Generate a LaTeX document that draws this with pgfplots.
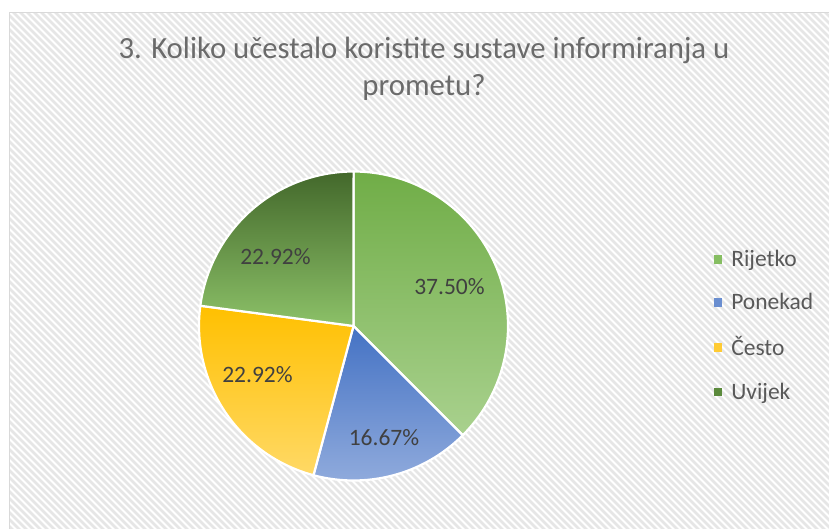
\documentclass[border=0pt]{standalone}
\usepackage{fontspec}
\setmainfont{Carlito}
\usepackage{pgfplots}
\pgfplotsset{compat=1.18}
\usepackage{pgfplotstable}

\definecolor{c0t}{HTML}{70AD47}\definecolor{c0b}{HTML}{A9D18E}\definecolor{c0m}{HTML}{86BE62}
\definecolor{c1t}{HTML}{4472C4}\definecolor{c1b}{HTML}{8FAADC}\definecolor{c1m}{HTML}{6A8ED0}
\definecolor{c2t}{HTML}{FFC000}\definecolor{c2b}{HTML}{FFD966}\definecolor{c2m}{HTML}{FFCB33}
\definecolor{c3t}{HTML}{43682B}\definecolor{c3b}{HTML}{8CC168}\definecolor{c3m}{HTML}{5B8A3C}
\definecolor{stripe}{HTML}{E6E6E6}
\definecolor{frame}{HTML}{D9D9D9}
\definecolor{labeltext}{HTML}{404040}
\definecolor{legtext}{HTML}{595959}
\definecolor{titletext}{HTML}{6B6B6B}

% value = share in percent; lx, ly = label position
\pgfplotstableread{
label value lx ly
Rijetko 37.50 449.5 242
Ponekad 16.67 384 91
Često 22.92 257.5 154
Uvijek 22.92 275.5 272
}\piedata

\begin{document}
\begin{tikzpicture}
\useasboundingbox (0,0) rectangle (829pt,529pt);
\fill[white] (0,0) rectangle (829pt,529pt);
\begin{scope}
\clip (9.5pt,-10pt) rectangle (840pt,516.5pt);
\foreach \k in {-80,...,122} \draw[stripe, line width=2.6pt] (\k*7pt,530pt) -- ++(540pt,-540pt);
\end{scope}
\draw[frame, line width=1.5pt] (9.5pt,-10pt) -- (9.5pt,516.5pt) -- (840pt,516.5pt);
\begin{axis}[
  at={(0,0)}, anchor=south west,
  width=829pt, height=529pt, scale only axis,
  xmin=0, xmax=829, ymin=0, ymax=529,
  hide axis, clip=false,
  /pgf/number format/assume math mode=true,
  title={3. Koliko učestalo koristite sustave informiranja u\\prometu?},
  title style={at={(axis cs:424,454)}, anchor=center, align=center,
    font=\fontsize{30.8}{37}\selectfont, text=titletext},
  legend style={at={(axis cs:710.5,203.5)}, anchor=west, draw=none, fill=none,
    font=\fontsize{23.5}{28}\selectfont, text=legtext, row sep=21.3pt,
    /tikz/every odd column/.append style={column sep=8pt}},
  legend cell align=left,
]
\pgfmathsetmacro\startang{90}
\pgfplotsforeachungrouped \i in {0,...,3}{
  \pgfplotstablegetelem{\i}{value}\of\piedata
  \pgfmathsetmacro\endang{\startang-3.6*\pgfplotsretval}
  \edef\temp{\noexpand\addplot[forget plot, domain=\startang:\endang, samples=90,
     top color=c\i t, bottom color=c\i b, draw=white, line width=2.2pt, line join=round]
     ({353.5+154.5*cos(x)},{203+154.5*sin(x)}) -- (353.5,203) -- cycle;}
  \temp
  \global\let\startang\endang
}
\addplot[forget plot, only marks, mark=none, point meta=explicit,
  nodes near coords={\pgfmathprintnumber[fixed,fixed zerofill,precision=2,assume math mode=true]{\pgfplotspointmeta}\%},
  every node near coord/.append style={anchor=center, text=labeltext,
    font=\fontsize{23.5}{28}\selectfont}]
  table[x=lx, y=ly, meta=value]{\piedata};
\addlegendimage{only marks, mark=square*, mark size=3.8pt, color=c0m}
\addlegendentry{Rijetko}
\addlegendimage{only marks, mark=square*, mark size=3.8pt, color=c1m}
\addlegendentry{Ponekad}
\addlegendimage{only marks, mark=square*, mark size=3.8pt, color=c2m}
\addlegendentry{Često}
\addlegendimage{only marks, mark=square*, mark size=3.8pt, color=c3m}
\addlegendentry{Uvijek}
\end{axis}
\end{tikzpicture}
\end{document}
